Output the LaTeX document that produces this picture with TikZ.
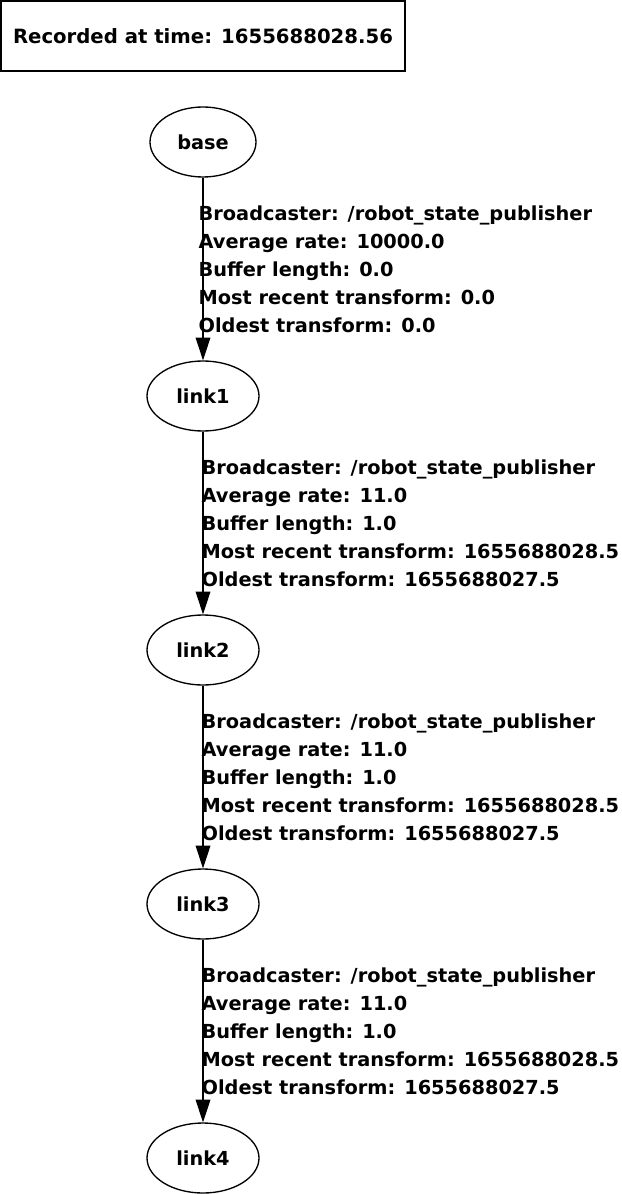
\documentclass[tikz,border=0pt]{standalone}
\usepackage{fontspec}
\setmainfont{DejaVu Sans}
\usetikzlibrary{shapes.geometric,arrows.meta}

\tikzset{
  frame/.style={draw,ellipse,line width=1pt,inner sep=0pt,minimum width=84pt,minimum height=52.5pt},
  tfedge/.style={line width=1pt,-{Triangle[length=17pt,width=11pt]}},
  tflabel/.style={anchor=west,align=left,inner sep=0pt,font=\bfseries\fontsize{14.5pt}{21pt}\selectfont}
}

\begin{document}
\begin{tikzpicture}[x=0.75pt,y=-0.75pt,font=\bfseries\fontsize{14.5pt}{21pt}\selectfont]
  \useasboundingbox (0,0) rectangle (621,1194);
  %\draw[very thin,lightgray,step=50] (0,0) grid (621,1194);
  \node[draw,line width=1.5pt,minimum width=303pt,minimum height=52.5pt,inner sep=0pt,font=\bfseries\fontsize{14.75pt}{21pt}\selectfont] (stamp) at (203,36) {Recorded at time: 1655688028.56};

  \node[frame,minimum width=79.5pt] (base) at (203,142) {base};
  \node[frame] (link1) at (203,396) {link1};
  \node[frame] (link2) at (203,650) {link2};
  \node[frame] (link3) at (203,904) {link3};
  \node[frame] (link4) at (203,1158) {link4};

  \draw[tfedge] (base) -- (link1) node[tflabel,midway,xshift=-3.75pt]
    {Broadcaster: /robot\_state\_publisher\\Average rate: 10000.0\\Buffer length: 0.0\\Most recent transform: 0.0\\Oldest transform: 0.0};
  \foreach \a/\b in {link1/link2,link2/link3,link3/link4}
    \draw[tfedge] (\a) -- (\b) node[tflabel,midway,xshift=-1.5pt]
      {Broadcaster: /robot\_state\_publisher\\Average rate: 11.0\\Buffer length: 1.0\\Most recent transform: 1655688028.5\\Oldest transform: 1655688027.5};
\end{tikzpicture}
\end{document}
